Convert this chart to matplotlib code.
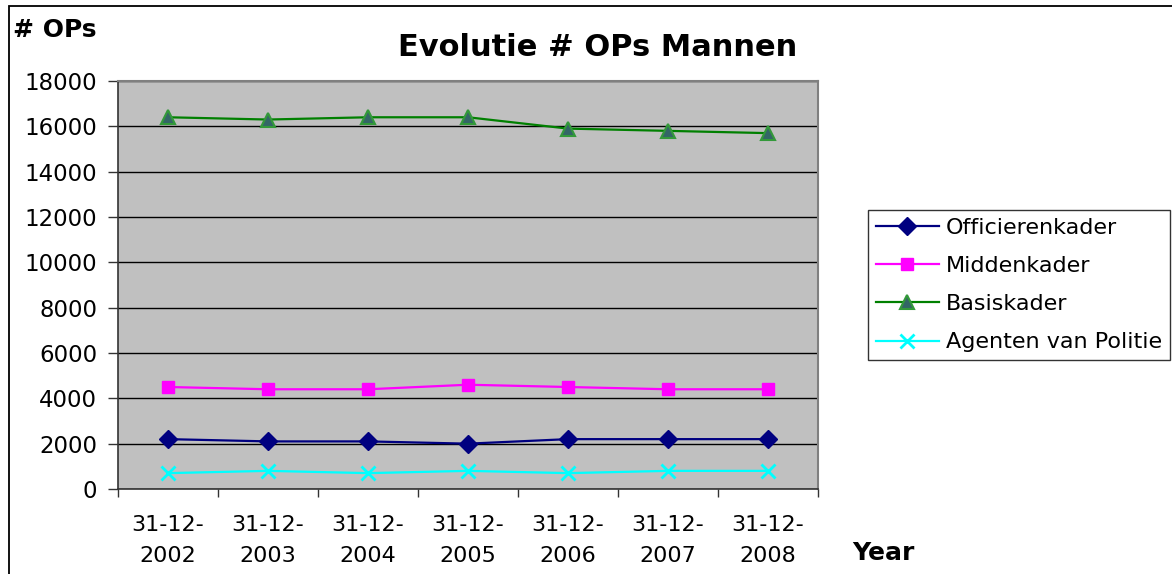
import numpy as np
import matplotlib
matplotlib.use('Agg')
import matplotlib.pyplot as plt
from matplotlib.patches import Rectangle

plt.rcParams['font.family'] = ['DejaVu Sans']

# data
dates = ['31-12-\n2002', '31-12-\n2003', '31-12-\n2004', '31-12-\n2005',
         '31-12-\n2006', '31-12-\n2007', '31-12-\n2008']
officieren = [2200, 2100, 2100, 2000, 2200, 2200, 2200]
midden = [4500, 4400, 4400, 4600, 4500, 4400, 4400]
basis = [16400, 16300, 16400, 16400, 15900, 15800, 15700]
agenten = [700, 800, 700, 800, 700, 800, 800]

W, H = 1172, 574
fig = plt.figure(figsize=(W/100, H/100), dpi=100)
ax = fig.add_axes([118/W, 1-489/H, (818-118)/W, (489-81)/H])
ax.set_facecolor('#C0C0C0')

x = np.arange(len(dates))
ax.plot(x, officieren, color='#000080', lw=1.6, marker='D', ms=9,
        mfc='#000080', mec='#000080', label='Officierenkader', zorder=3)
ax.plot(x, midden, color='#FF00FF', lw=1.6, marker='s', ms=9,
        mfc='#FF00FF', mec='#FF00FF', label='Middenkader', zorder=3)
ax.plot(x, basis, color='#008000', lw=1.6, marker='^', ms=10,
        mfc='#336666', mec='#33993A', mew=1.5, label='Basiskader', zorder=3)
ax.plot(x, agenten, color='#00FFFF', lw=1.6, marker='x', ms=10, mew=2,
        label='Agenten van Politie', zorder=3)

ax.set_xlim(-0.5, len(dates) - 0.5)
ax.set_ylim(0, 18000)
ax.set_yticks(np.arange(0, 18001, 2000))
ax.yaxis.grid(True, color='black', lw=1)
ax.set_axisbelow(True)

# category labels centred, tick marks between categories
ax.set_xticks(np.arange(-0.5, len(dates)), minor=False)
ax.set_xticklabels([])
ax.set_xticks(x, minor=True)
ax.set_xticklabels(dates, minor=True, fontsize=16, linespacing=1.65)
ax.tick_params(axis='x', which='minor', length=0, pad=19)
ax.tick_params(axis='x', which='major', length=6, width=1, color='#333333')
ax.tick_params(axis='y', length=7, width=1, color='#333333', labelsize=16.5, pad=8)

for s in ['top', 'right']:
    ax.spines[s].set_color('#808080')
    ax.spines[s].set_linewidth(1.5)
for s in ['left', 'bottom']:
    ax.spines[s].set_color('#333333')
    ax.spines[s].set_linewidth(1.2)

fig.text(598/W, 1-48/H, 'Evolutie # OPs Mannen', fontsize=22, fontweight='bold',
         ha='center', va='center')
fig.text(13/W, 1-30/H, '# OPs', fontsize=18, fontweight='bold', ha='left', va='center')
fig.text(852/W, 1-553/H, 'Year', fontsize=18, fontweight='bold', ha='left', va='center')

# chart border (left and top visible)
fig.patches.append(Rectangle((9/W, -0.1), 1.2, 1-6/H+0.1, transform=fig.transFigure,
                             fill=False, edgecolor='black', lw=1.3))

leg = fig.legend(loc='upper left', bbox_to_anchor=(868/W, 1-210/H), fontsize=16,
                 frameon=True, fancybox=False, edgecolor='black', handlelength=2.85,
                 labelspacing=0.82, borderpad=0.35, handletextpad=0.3,
                 borderaxespad=0)
leg.get_frame().set_linewidth(1)

fig.savefig('out.png', dpi=100)
